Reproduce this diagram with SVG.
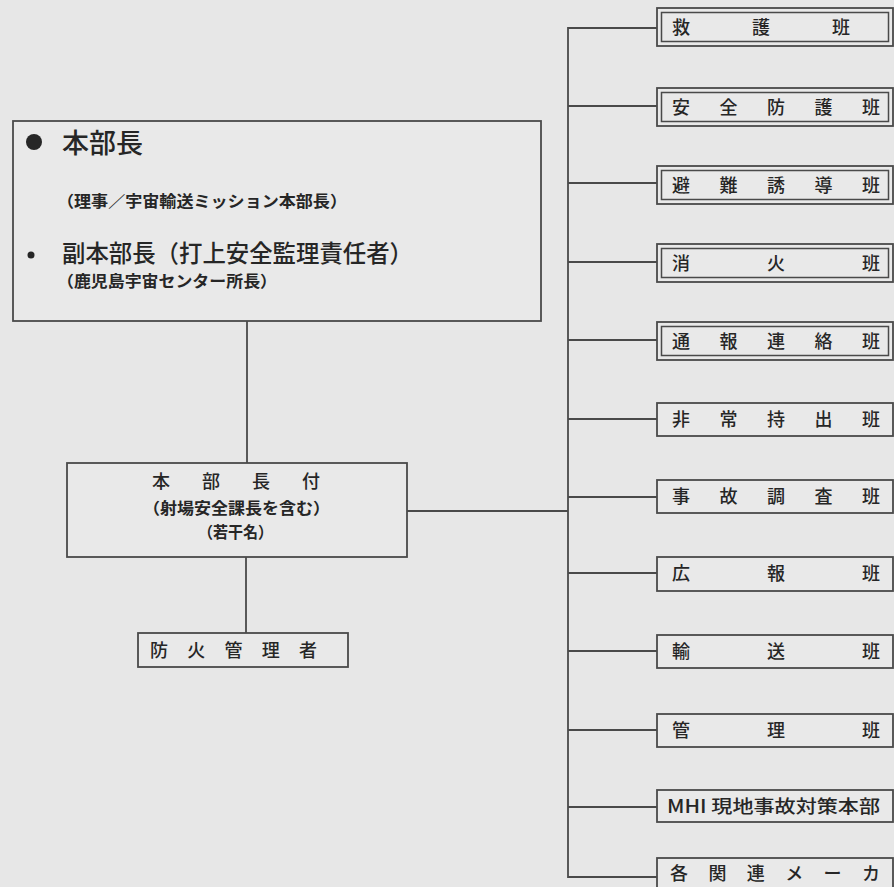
<svg xmlns="http://www.w3.org/2000/svg" width="894" height="887" viewBox="0 0 894 887">
<style>
.bg{fill:#e7e7e7}
.box{fill:#e9e9e9;stroke:#4a4a4a;stroke-width:1.8}
.inner{fill:none;stroke:#4a4a4a;stroke-width:1.5}
.ln{fill:none;stroke:#4a4a4a;stroke-width:1.8}
text{font-family:"Noto Sans CJK JP","Noto Sans",sans-serif;fill:#262626;font-weight:500}
.t18{font-size:18px}
.t17{font-size:16px;font-weight:600}
</style>
<rect class="bg" x="0" y="0" width="894" height="887"/>
<g id="connectors">
<path class="ln" d="M247 321V463M246 557V633M407 511H568"/>
<path class="ln" d="M657 28H568V877H657"/>
<path class="ln" d="M568 106H657M568 183H657M568 262H657M568 340H657M568 419H657M568 497H657M568 573H657M568 651H657M568 730H657M568 807H657"/>
</g>
<g id="honbucho">
<rect class="box" x="13" y="121" width="528" height="200"/>
<circle cx="34" cy="142" r="8" fill="#262626"/>
<text x="62" y="153" style="font-size:27px">本部長</text>
<text class="t17" x="57" y="207" textLength="290" lengthAdjust="spacingAndGlyphs">（理事／宇宙輸送ミッション本部長）</text>
<circle cx="31" cy="255" r="3.5" fill="#262626"/>
<text x="62" y="262" style="font-size:24px" textLength="351" lengthAdjust="spacingAndGlyphs">副本部長（打上安全監理責任者）</text>
<text class="t17" x="57" y="287" textLength="220" lengthAdjust="spacingAndGlyphs">（鹿児島宇宙センター所長）</text>
</g>
<g id="honbuchozuki">
<rect class="box" x="67" y="463" width="340" height="94"/>
<text class="t18" x="152" y="488" textLength="168" lengthAdjust="spacing">本部長付</text>
<text class="t17" x="143" y="514" textLength="187" lengthAdjust="spacingAndGlyphs">（射場安全課長を含む）</text>
<text class="t17" x="198" y="538" textLength="75" lengthAdjust="spacingAndGlyphs">（若干名）</text>
</g>
<g id="bouka">
<rect class="box" x="138" y="633" width="210" height="34"/>
<text class="t18" x="150" y="657" textLength="167" lengthAdjust="spacing">防火管理者</text>
</g>
<g id="kyugo">
<rect class="box" x="657" y="8" width="236" height="38"/>
<rect class="inner" x="661.5" y="12.5" width="227" height="29"/>
<text class="t18" x="672" y="34" textLength="178" lengthAdjust="spacing">救護班</text>
</g>
<g id="anzenbogo">
<rect class="box" x="657" y="88" width="236" height="38"/>
<rect class="inner" x="661.5" y="92.5" width="227" height="29"/>
<text class="t18" x="672" y="114" textLength="208" lengthAdjust="spacing">安全防護班</text>
</g>
<g id="hinan">
<rect class="box" x="657" y="166" width="236" height="38"/>
<rect class="inner" x="661.5" y="170.5" width="227" height="29"/>
<text class="t18" x="672" y="192" textLength="208" lengthAdjust="spacing">避難誘導班</text>
</g>
<g id="shoka">
<rect class="box" x="657" y="244" width="236" height="38"/>
<rect class="inner" x="661.5" y="248.5" width="227" height="29"/>
<text class="t18" x="672" y="270" textLength="208" lengthAdjust="spacing">消火班</text>
</g>
<g id="tsuho">
<rect class="box" x="657" y="322" width="236" height="38"/>
<rect class="inner" x="661.5" y="326.5" width="227" height="29"/>
<text class="t18" x="672" y="348" textLength="208" lengthAdjust="spacing">通報連絡班</text>
</g>
<g id="hijo">
<rect class="box" x="657" y="403" width="236" height="33"/>
<text class="t18" x="672" y="426" textLength="208" lengthAdjust="spacing">非常持出班</text>
</g>
<g id="jiko">
<rect class="box" x="657" y="480" width="236" height="33"/>
<text class="t18" x="672" y="503" textLength="208" lengthAdjust="spacing">事故調査班</text>
</g>
<g id="koho">
<rect class="box" x="657" y="557" width="236" height="34"/>
<text class="t18" x="672" y="580" textLength="208" lengthAdjust="spacing">広報班</text>
</g>
<g id="yuso">
<rect class="box" x="657" y="635" width="236" height="33"/>
<text class="t18" x="672" y="658" textLength="208" lengthAdjust="spacing">輸送班</text>
</g>
<g id="kanri">
<rect class="box" x="657" y="714" width="236" height="33"/>
<text class="t18" x="672" y="737" textLength="208" lengthAdjust="spacing">管理班</text>
</g>
<g id="mhi">
<rect class="box" x="657" y="790" width="236" height="32"/>
<text class="t18" x="667" y="813" textLength="213" lengthAdjust="spacingAndGlyphs">MHI 現地事故対策本部</text>
</g>
<g id="maker">
<rect class="box" x="657" y="858" width="236" height="36"/>
<text class="t18" x="670" y="880" textLength="210" lengthAdjust="spacing">各関連メーカ</text>
</g>
</svg>
